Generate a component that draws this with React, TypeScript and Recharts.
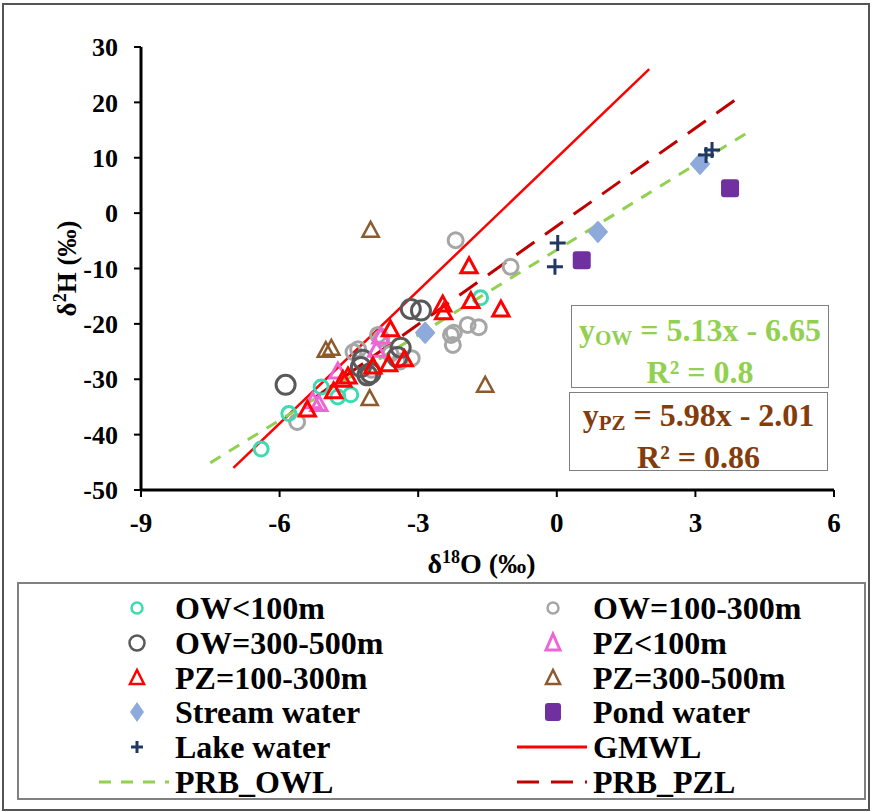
import React from 'react';
import { ScatterChart, Scatter, XAxis, YAxis, ReferenceLine } from 'recharts';

const FONT = '"Liberation Serif", Tinos, "Times New Roman", "DejaVu Serif", serif';

// axis ticks
const xTicks = [-9, -6, -3, 0, 3, 6];
const yTicks = [-50, -40, -30, -20, -10, 0, 10, 20, 30];

// sample groups (δ18O, δ2H)
const owShallow = [
  { x: -6.4, y: -42.6 }, { x: -5.8, y: -36.2 }, { x: -5.1, y: -31.4 },
  { x: -4.74, y: -33.2 }, { x: -4.46, y: -32.8 }, { x: -1.65, y: -15.3 },
];
const owMid = [
  { x: -5.62, y: -37.7 }, { x: -4.4, y: -25.1 }, { x: -4.3, y: -24.6 },
  { x: -3.87, y: -22.0 }, { x: -3.8, y: -22.6 }, { x: -3.14, y: -26.2 },
  { x: -3.6, y: -25.4 }, { x: -4.0, y: -28.3 }, { x: -2.29, y: -22.0 },
  { x: -2.25, y: -23.8 }, { x: -2.23, y: -21.6 }, { x: -1.93, y: -20.2 },
  { x: -1.69, y: -20.6 }, { x: -2.19, y: -4.9 }, { x: -1.0, y: -9.7 },
  { x: -3.4, y: -26.8 },
];
const owDeep = [
  { x: -5.87, y: -31.0 }, { x: -3.16, y: -17.3 }, { x: -2.94, y: -17.6 },
  { x: -4.24, y: -27.8 }, { x: -4.03, y: -28.9 }, { x: -4.2, y: -26.5 },
  { x: -3.38, y: -24.3 }, { x: -4.1, y: -29.3 }, { x: -3.45, y: -26.0 },
];
const pzShallow = [
  { x: -5.28, y: -34.1 }, { x: -5.15, y: -34.6 }, { x: -4.74, y: -28.7 },
  { x: -3.81, y: -22.4 }, { x: -3.9, y: -24.8 },
];
const pzMid = [
  { x: -5.4, y: -35.6 }, { x: -4.83, y: -32.3 }, { x: -4.52, y: -29.6 },
  { x: -4.63, y: -30.2 }, { x: -3.98, y: -27.8 }, { x: -3.64, y: -27.4 },
  { x: -3.3, y: -26.5 }, { x: -3.6, y: -21.1 }, { x: -2.47, y: -16.6 },
  { x: -2.45, y: -18.0 }, { x: -1.86, y: -16.0 }, { x: -1.21, y: -17.5 },
  { x: -1.9, y: -9.7 },
];
const pzDeep = [
  { x: -4.03, y: -3.2 }, { x: -5.0, y: -24.9 }, { x: -4.88, y: -24.5 },
  { x: -4.05, y: -33.6 }, { x: -1.55, y: -31.2 },
];
const stream = [{ x: -2.85, y: -21.6 }, { x: 0.89, y: -3.4 }, { x: 3.1, y: 8.9 }];
const pond = [{ x: 0.54, y: -8.5 }, { x: 3.75, y: 4.5 }];
const lake = [
  { x: 0.02, y: -5.4 }, { x: -0.04, y: -9.7 }, { x: 3.23, y: 10.5 }, { x: 3.36, y: 11.4 },
];

// line end points
const gmwl = [{ x: -7, y: -46 }, { x: 2, y: 26 }];
const owl = [{ x: -7.5, y: -45.1 }, { x: 4.1, y: 14.4 }];
const pzl = [{ x: -5.2, y: -33.1 }, { x: 3.92, y: 20.8 }];

const C = {
  teal: '#3ddbb0',
  gray: '#a6a6a6',
  dark: '#595959',
  pink: '#ee66d6',
  red: '#ff0000',
  brown: '#8c5a2c',
  stream: '#8eaadb',
  pond: '#7030a0',
  lake: '#1f3864',
  green: '#92d050',
  pzl: '#c00000',
  eqBrown: '#843c0c',
};

const circleShape = (r: number, color: string, sw: number) => (p: any) => (
  <circle cx={p.cx} cy={p.cy} r={r} fill="none" stroke={color} strokeWidth={sw} />
);
const triShape = (color: string, s: number, sw: number) => (p: any) => (
  <path
    d={`M${p.cx},${p.cy - s} L${p.cx + s * 0.9},${p.cy + s * 0.65} L${p.cx - s * 0.9},${p.cy + s * 0.65} Z`}
    fill="none"
    stroke={color}
    strokeWidth={sw}
    strokeLinejoin="miter"
  />
);
const diamondShape = (p: any) => (
  <path
    d={`M${p.cx},${p.cy - 10} L${p.cx + 9},${p.cy} L${p.cx},${p.cy + 10} L${p.cx - 9},${p.cy} Z`}
    fill={C.stream}
    stroke={C.stream}
    strokeWidth={2}
    strokeLinejoin="round"
  />
);
const squareShape = (p: any) => (
  <rect x={p.cx - 9} y={p.cy - 9} width={18} height={18} rx={3} fill={C.pond} />
);
const plusShape = (p: any) => (
  <path
    d={`M${p.cx - 8},${p.cy} H${p.cx + 8} M${p.cx},${p.cy - 8} V${p.cy + 8}`}
    stroke={C.lake}
    strokeWidth={3}
  />
);

const YLabel = ({ viewBox }: any) => {
  const x = viewBox.x + 76;
  const y = viewBox.y + viewBox.height / 2;
  return (
    <text
      x={x}
      y={y}
      transform={`rotate(-90 ${x} ${y})`}
      textAnchor="middle"
      fontFamily={FONT}
      fontWeight="bold"
      fontSize={27}
      fill="#000"
    >
      δ<tspan dy={-10} fontSize={18}>2</tspan>
      <tspan dy={10}>H (‰)</tspan>
    </text>
  );
};

const XLabel = ({ viewBox }: any) => {
  const x = viewBox.x + viewBox.width / 2 - 6;
  const y = viewBox.y + 83;
  return (
    <text x={x} y={y} textAnchor="middle" fontFamily={FONT} fontWeight="bold" fontSize={28} fill="#000">
      δ<tspan dy={-10} fontSize={18}>18</tspan>
      <tspan dy={10}>O (‰)</tspan>
    </text>
  );
};

type LegendItem = { name: string; icon: React.ReactNode };

const legendCol1: LegendItem[] = [
  { name: 'OW<100m', icon: <circle cx={20} cy={12} r={5.5} fill="none" stroke={C.teal} strokeWidth={2.5} /> },
  { name: 'OW=300-500m', icon: <circle cx={20} cy={12} r={7.5} fill="none" stroke={C.dark} strokeWidth={2.5} /> },
  { name: 'PZ=100-300m', icon: <path d="M20,4 L27,18 L13,18 Z" fill="none" stroke={C.red} strokeWidth={2.5} /> },
  { name: 'Stream water', icon: <path d="M20,2 L27,12 L20,22 L13,12 Z" fill={C.stream} /> },
  { name: 'Lake water', icon: <path d="M14,12 H26 M20,6 V18" stroke={C.lake} strokeWidth={3} /> },
  { name: 'PRB_OWL', icon: <line x1={-18} y1={12} x2={52} y2={12} stroke={C.green} strokeWidth={3} strokeDasharray="12 10" /> },
];
const legendCol2: LegendItem[] = [
  { name: 'OW=100-300m', icon: <circle cx={20} cy={12} r={5.5} fill="none" stroke={C.gray} strokeWidth={2.5} /> },
  { name: 'PZ<100m', icon: <path d="M20,3 L27,19 L13,19 Z" fill="none" stroke={C.pink} strokeWidth={3} /> },
  { name: 'PZ=300-500m', icon: <path d="M20,4 L27,18 L13,18 Z" fill="none" stroke={C.brown} strokeWidth={2.5} /> },
  { name: 'Pond water', icon: <rect x={12} y={3} width={16} height={18} rx={3} fill={C.pond} /> },
  { name: 'GMWL', icon: <line x1={-16} y1={12} x2={54} y2={12} stroke={C.red} strokeWidth={3} /> },
  { name: 'PRB_PZL', icon: <line x1={-16} y1={12} x2={54} y2={12} stroke={C.pzl} strokeWidth={3} strokeDasharray="22 12" /> },
];

const LegendColumn = ({ items, iconLeft, textLeft }: { items: LegendItem[]; iconLeft: number; textLeft: number }) => (
  <>
    {items.map((it, i) => (
      <div key={it.name} style={{ position: 'absolute', left: 0, top: 6 + i * 34.8, height: 34, width: '100%' }}>
        <svg
          width={80}
          height={24}
          viewBox="-20 0 80 24"
          style={{ position: 'absolute', left: iconLeft - 40, top: 6, overflow: 'visible' }}
        >
          {it.icon}
        </svg>
        <span
          style={{
            position: 'absolute',
            left: textLeft,
            top: 0,
            fontFamily: FONT,
            fontWeight: 'bold',
            fontSize: 32,
            lineHeight: '36px',
            whiteSpace: 'nowrap',
          }}
        >
          {it.name}
        </span>
      </div>
    ))}
  </>
);

const eqText: React.CSSProperties = {
  fontFamily: FONT,
  fontWeight: 'bold',
  fontSize: 32,
  lineHeight: '34px',
  textAlign: 'center',
  whiteSpace: 'nowrap',
};

export default function App() {
  return (
    <div style={{ position: 'absolute', left: 0, top: 0, width: 872, height: 812, background: '#fff', fontFamily: FONT }}>
      <div
        style={{
          position: 'absolute', left: 2, top: 3, width: 864, height: 804,
          border: '2px solid #555', boxSizing: 'content-box',
        }}
      />
      <ScatterChart
        width={872}
        height={812}
        margin={{ top: 47, right: 38, left: 0, bottom: 242 }}
        style={{ position: 'absolute', left: 0, top: 0 }}
      >
        <XAxis
          type="number"
          dataKey="x"
          domain={[-9, 6]}
          ticks={xTicks}
          allowDataOverflow
          height={80}
          tickSize={7}
          tickMargin={16}
          axisLine={{ stroke: '#000', strokeWidth: 3 }}
          tickLine={{ stroke: '#000', strokeWidth: 2 }}
          tick={{ fill: '#000', fontSize: 27, fontWeight: 'bold', fontFamily: FONT }}
          label={<XLabel />}
        />
        <XAxis
          xAxisId="top"
          orientation="top"
          type="number"
          domain={[-9, 6]}
          height={0}
          tick={false}
          tickLine={false}
          axisLine={{ stroke: '#000', strokeWidth: 2 }}
        />
        <YAxis
          type="number"
          dataKey="y"
          domain={[-50, 30]}
          ticks={yTicks}
          allowDataOverflow
          width={141}
          tickSize={7}
          tickMargin={16}
          axisLine={{ stroke: '#000', strokeWidth: 3 }}
          tickLine={{ stroke: '#000', strokeWidth: 2 }}
          tick={{ fill: '#000', fontSize: 26, fontWeight: 'bold', fontFamily: FONT }}
          label={<YLabel />}
        />
        <YAxis
          yAxisId="right"
          orientation="right"
          type="number"
          domain={[-50, 30]}
          width={0}
          tick={false}
          tickLine={false}
          axisLine={{ stroke: '#000', strokeWidth: 2 }}
        />
        <ReferenceLine segment={gmwl} stroke={C.red} strokeWidth={2.5} ifOverflow="visible" />
        <ReferenceLine segment={owl} stroke={C.green} strokeWidth={3} strokeDasharray="12 10" ifOverflow="visible" />
        <ReferenceLine segment={pzl} stroke={C.pzl} strokeWidth={3} strokeDasharray="22 13" ifOverflow="visible" />
        <Scatter name="OW=100-300m" data={owMid} shape={circleShape(7.5, C.gray, 3)} isAnimationActive={false} />
        <Scatter name="OW=300-500m" data={owDeep} shape={circleShape(9.5, C.dark, 3)} isAnimationActive={false} />
        <Scatter name="OW<100m" data={owShallow} shape={circleShape(7, C.teal, 3)} isAnimationActive={false} />
        <Scatter name="PZ<100m" data={pzShallow} shape={triShape(C.pink, 9, 3)} isAnimationActive={false} />
        <Scatter name="PZ=100-300m" data={pzMid} shape={triShape(C.red, 9, 3)} isAnimationActive={false} />
        <Scatter name="PZ=300-500m" data={pzDeep} shape={triShape(C.brown, 9, 2.5)} isAnimationActive={false} />
        <Scatter name="Stream water" data={stream} shape={diamondShape} isAnimationActive={false} />
        <Scatter name="Pond water" data={pond} shape={squareShape} isAnimationActive={false} />
        <Scatter name="Lake water" data={lake} shape={plusShape} isAnimationActive={false} />
      </ScatterChart>

      {/* regression equation boxes */}
      <div
        style={{
          position: 'absolute', left: 571, top: 305, width: 258, height: 83,
          border: '1.5px solid #7f7f7f', background: '#fff', color: C.green, ...eqText,
          paddingTop: 7, boxSizing: 'border-box',
        }}
      >
        <div>
          y<sub style={{ fontSize: 21, verticalAlign: -4 }}>OW</sub> = 5.13x - 6.65
        </div>
        <div>R² = 0.8</div>
      </div>
      <div
        style={{
          position: 'absolute', left: 569, top: 392, width: 259, height: 79,
          border: '1.5px solid #7f7f7f', background: '#fff', color: C.eqBrown, ...eqText,
          paddingTop: 5, boxSizing: 'border-box',
        }}
      >
        <div>
          y<sub style={{ fontSize: 21, verticalAlign: -4 }}>PZ</sub> = 5.98x - 2.01
        </div>
        <div>R² = 0.86</div>
      </div>

      {/* legend */}
      <div
        style={{
          position: 'absolute', left: 17, top: 582, width: 849, height: 218,
          border: '2px solid #808080', boxSizing: 'border-box', background: '#fff',
        }}
      >
        <LegendColumn items={legendCol1} iconLeft={118} textLeft={156} />
        <LegendColumn items={legendCol2} iconLeft={534} textLeft={574} />
      </div>
    </div>
  );
}
